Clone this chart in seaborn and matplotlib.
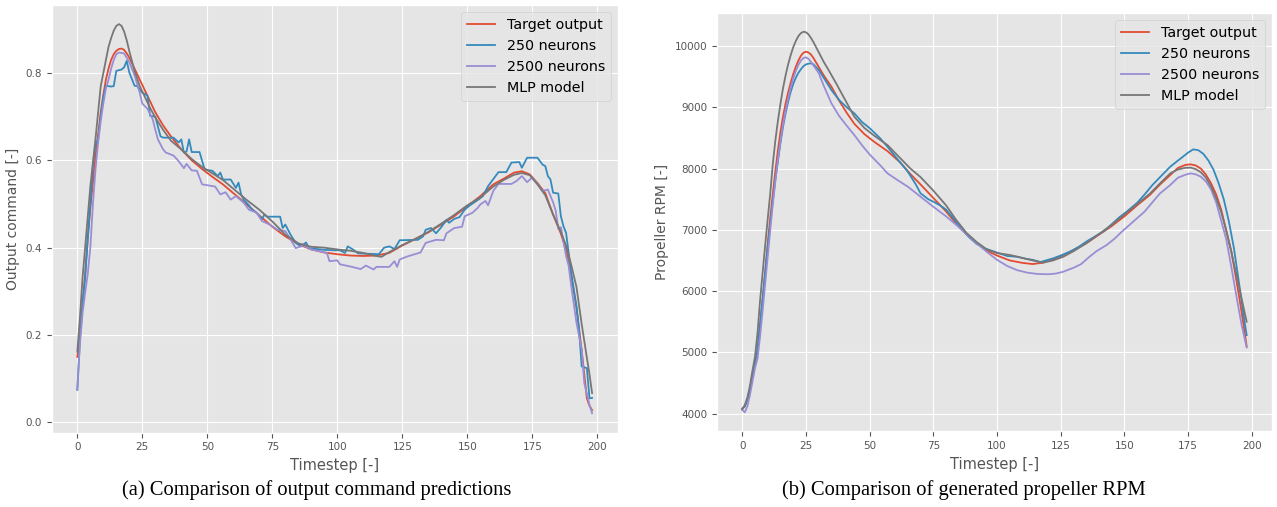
import matplotlib
matplotlib.use("Agg")
import matplotlib.pyplot as plt
import seaborn as sns
import pandas as pd

# ---------------- (a) output command ----------------
a_target_t = [0,1,2,3,4,5,6,7,8,9,10,11,12,13,14,15,16,17,18,19,20,22,24,26,28,30,33,36,40,44,48,52,56,60,65,70,75,80,85,90,95,100,105,110,115,120,125,130,135,140,145,150,155,160,164,168,171,174,177,180,183,186,188,190,192,194,196,197,198]
a_target_v = [0.15,0.19,0.27,0.34,0.42,0.49,0.55,0.61,0.66,0.71,0.75,0.785,0.81,0.83,0.843,0.851,0.855,0.856,0.853,0.845,0.835,0.81,0.785,0.76,0.735,0.71,0.68,0.655,0.625,0.60,0.58,0.562,0.545,0.525,0.50,0.474,0.448,0.426,0.408,0.396,0.389,0.385,0.382,0.381,0.382,0.388,0.405,0.42,0.435,0.453,0.472,0.495,0.518,0.545,0.558,0.572,0.575,0.568,0.548,0.525,0.476,0.432,0.395,0.334,0.262,0.165,0.055,0.038,0.028]

a_n250_t = [0,1,2,3,4,5,6,7,8,9,10,11,13,14,15,17,18,19,20,22,23,25,27,28,30,32,33,37,39,40,41,42,43,44,47,49,52,54,55,56,59,61,62,63,64,66,67,69,71,72,73,78,79,80,82,84,86,88,89,95,99,101,103,104,106,108,116,118,120,122,124,131,133,134,136,138,140,142,143,145,147,149,151,154,156,158,160,162,165,167,170,171,173,177,179,180,181,182,183,185,186,187,188,190,192,193,194,196,197,198]
a_n250_v = [0.075,0.19,0.27,0.33,0.42,0.50,0.59,0.637,0.648,0.70,0.745,0.771,0.769,0.77,0.805,0.808,0.813,0.828,0.801,0.771,0.77,0.755,0.748,0.702,0.700,0.655,0.652,0.652,0.641,0.648,0.618,0.62,0.648,0.619,0.619,0.579,0.576,0.564,0.572,0.556,0.556,0.537,0.549,0.522,0.51,0.497,0.488,0.48,0.465,0.476,0.471,0.471,0.445,0.453,0.430,0.411,0.403,0.412,0.399,0.395,0.394,0.394,0.388,0.403,0.396,0.387,0.385,0.400,0.403,0.397,0.417,0.418,0.426,0.441,0.445,0.433,0.447,0.464,0.457,0.466,0.470,0.487,0.497,0.509,0.518,0.541,0.557,0.573,0.573,0.595,0.596,0.583,0.606,0.606,0.590,0.587,0.564,0.556,0.526,0.524,0.472,0.449,0.434,0.342,0.266,0.212,0.128,0.124,0.055,0.056]

a_n2500_t = [0,1,2,3,4,5,6,7,8,9,10,11,12,13,14,15,16,18,19,20,22,24,25,27,29,30,31,33,34,37,39,41,42,44,46,48,53,55,57,59,61,64,66,69,71,74,77,80,82,84,87,90,93,96,97,100,101,105,109,111,114,115,120,122,123,124,127,132,134,138,141,142,145,148,149,152,154,155,157,158,160,162,167,169,171,173,175,178,179,181,183,184,185,186,188,189,190,192,194,195,197,198]
a_n2500_v = [0.074,0.18,0.25,0.296,0.34,0.40,0.50,0.58,0.64,0.69,0.73,0.765,0.785,0.81,0.83,0.843,0.847,0.845,0.835,0.825,0.795,0.755,0.73,0.718,0.694,0.67,0.648,0.625,0.618,0.611,0.598,0.582,0.592,0.577,0.576,0.545,0.540,0.522,0.527,0.51,0.518,0.503,0.487,0.48,0.461,0.453,0.441,0.438,0.419,0.399,0.405,0.396,0.392,0.388,0.369,0.371,0.362,0.357,0.351,0.359,0.350,0.356,0.356,0.369,0.356,0.373,0.38,0.389,0.411,0.418,0.417,0.433,0.445,0.448,0.472,0.480,0.491,0.499,0.507,0.497,0.530,0.546,0.546,0.553,0.564,0.550,0.561,0.538,0.530,0.533,0.504,0.485,0.443,0.447,0.381,0.358,0.312,0.228,0.167,0.09,0.04,0.021]

a_mlp_t = [0,1,2,3,4,5,6,7,8,9,10,11,12,13,14,15,16,17,18,19,20,22,24,26,28,30,33,36,40,44,48,52,56,60,65,70,75,80,85,90,95,100,105,110,115,117,120,125,130,135,140,145,150,155,160,164,168,171,174,177,180,183,186,188,190,192,194,196,197,198]
a_mlp_v = [0.162,0.24,0.33,0.40,0.47,0.54,0.595,0.65,0.71,0.77,0.80,0.83,0.86,0.88,0.897,0.908,0.912,0.908,0.895,0.875,0.85,0.805,0.77,0.745,0.72,0.698,0.67,0.645,0.625,0.603,0.585,0.57,0.555,0.535,0.51,0.487,0.46,0.43,0.41,0.402,0.400,0.396,0.393,0.388,0.381,0.379,0.39,0.406,0.42,0.436,0.455,0.475,0.497,0.515,0.54,0.555,0.567,0.571,0.566,0.545,0.52,0.476,0.436,0.405,0.36,0.31,0.225,0.148,0.11,0.067]

# ---------------- (b) propeller RPM ----------------
b_target_t = [0,1,2,3,4,5,6,7,8,9,10,11,12,13,14,15,16,17,18,19,20,21,22,23,24,25,26,27,28,30,32,35,38,41,44,48,52,57,62,66,70,75,80,84,88,92,96,100,105,110,114,118,122,126,130,135,140,145,150,155,160,164,168,171,174,176,178,180,182,184,186,188,190,192,194,196,198]
b_target_v = [4080,4120,4230,4400,4620,4820,5050,5450,5870,6320,6780,7200,7590,7960,8300,8600,8850,9060,9240,9400,9540,9660,9760,9840,9890,9907,9895,9860,9800,9660,9520,9336,9110,8910,8730,8560,8430,8285,8100,7910,7740,7520,7300,7100,6930,6790,6660,6580,6500,6460,6441,6463,6520,6590,6670,6779,6920,7060,7220,7400,7570,7740,7894,8010,8060,8069,8050,8000,7900,7760,7580,7330,6980,6640,6170,5660,5100]

b_n250_t = [0,1,2,3,4,5,6,7,8,9,10,11,12,13,14,15,16,17,18,19,20,21,22,23,24,25,26,27,28,30,32,35,38,41,44,47,50,54,57,61,65,68,70,73,75,78,80,83,86,89,92,95,99,104,108,111,114,117,120,122,125,129,132,135,138,142,145,148,151,155,158,161,164,168,171,173,175,177,179,181,183,185,187,189,191,193,195,197,198]
b_n250_v = [4080,4120,4220,4400,4630,4850,5050,5450,5870,6300,6720,7100,7470,7820,8120,8420,8680,8900,9090,9250,9380,9480,9560,9620,9670,9700,9712,9717,9700,9610,9480,9281,9120,9000,8901,8760,8660,8500,8356,8150,7948,7750,7595,7500,7459,7390,7330,7180,7020,6880,6770,6700,6643,6572,6560,6530,6510,6474,6510,6534,6580,6650,6720,6806,6880,6980,7090,7204,7300,7440,7580,7731,7860,8030,8130,8194,8260,8313,8300,8240,8130,7980,7760,7500,7140,6700,6130,5550,5280]

b_n2500_t = [0,1,2,3,4,5,6,7,8,9,10,11,12,13,14,15,16,17,18,19,20,21,22,23,24,25,26,27,28,30,32,35,38,41,44,47,50,54,57,61,65,70,75,80,84,88,92,96,100,104,108,112,116,120,123,126,130,133,136,139,143,146,149,152,155,158,161,164,168,171,174,176,178,180,182,184,186,188,190,192,194,196,198]
b_n2500_v = [4060,4020,4120,4300,4520,4740,4900,5260,5680,6120,6560,7000,7420,7800,8150,8450,8720,8950,9140,9320,9470,9590,9690,9760,9805,9815,9790,9740,9680,9560,9350,9065,8860,8700,8547,8380,8230,8060,7922,7810,7704,7540,7377,7220,7080,6930,6780,6640,6510,6410,6340,6300,6279,6275,6285,6316,6380,6440,6550,6650,6751,6850,6970,7080,7190,7300,7450,7595,7731,7850,7900,7922,7905,7867,7790,7660,7450,7150,6840,6390,5910,5450,5080]

b_mlp_t = [0,1,2,3,4,5,6,7,8,9,10,11,12,13,14,15,16,17,18,19,20,21,22,23,24,25,26,27,28,30,32,34,37,40,44,48,52,57,62,66,70,75,80,84,88,92,96,100,105,110,114,118,122,126,130,135,140,145,150,155,160,164,168,171,174,176,178,180,182,184,186,188,190,192,194,196,198]
b_mlp_v = [4070,4140,4260,4450,4700,4930,5320,5850,6300,6750,7180,7600,8080,8460,8780,9060,9310,9520,9700,9850,9980,10080,10160,10210,10233,10225,10190,10130,10060,9900,9740,9600,9380,9150,8846,8660,8530,8384,8170,8000,7860,7640,7400,7160,6950,6800,6680,6620,6590,6540,6500,6463,6500,6560,6650,6779,6930,7080,7250,7420,7590,7759,7922,7985,8012,8015,7990,7940,7850,7710,7520,7290,6990,6640,6260,5880,5500]

labels = ["Target output", "250 neurons", "2500 neurons", "MLP model"]
colors = ["#E24A33", "#348ABD", "#988ED5", "#777777"]

plt.style.use("ggplot")
plt.rcParams["font.family"] = ["DejaVu Sans"]

fig = plt.figure(figsize=(12.77, 5.07), dpi=100)
ax1 = fig.add_axes([0.0404, 0.1467, 0.4434, 0.8441])
ax2 = fig.add_axes([0.5615, 0.1491, 0.4345, 0.8258])

series_a = [(a_target_t, a_target_v), (a_n250_t, a_n250_v), (a_n2500_t, a_n2500_v), (a_mlp_t, a_mlp_v)]
series_b = [(b_target_t, b_target_v), (b_n250_t, b_n250_v), (b_n2500_t, b_n2500_v), (b_mlp_t, b_mlp_v)]

for ax, series, ylab in [(ax1, series_a, "Output command [-]"), (ax2, series_b, "Propeller RPM [-]")]:
    for (t, v), lab, col in zip(series, labels, colors):
        sns.lineplot(x=t, y=v, ax=ax, color=col, label=lab, linewidth=1.3, sort=False)
    ax.set_xlabel("Timestep [-]", fontsize=10.5, color="#555555")
    ax.set_ylabel(ylab, fontsize=10, color="#555555")
    ax.tick_params(labelsize=7.5, colors="#555555")
    ax.set_xticks([0, 25, 50, 75, 100, 125, 150, 175, 200])
    leg = ax.legend(loc="upper right", fontsize=10.3)

ax1.set_yticks([0.0, 0.2, 0.4, 0.6, 0.8])
ax2.set_yticks([4000, 5000, 6000, 7000, 8000, 9000, 10000])

fig.text(0.248, 0.034, "(a) Comparison of output command predictions",
         family="Liberation Serif", fontsize=14.8, ha="center", va="center")
fig.text(0.755, 0.034, "(b) Comparison of generated propeller RPM",
         family="Liberation Serif", fontsize=14.8, ha="center", va="center")

fig.savefig("out.png", dpi=100)
